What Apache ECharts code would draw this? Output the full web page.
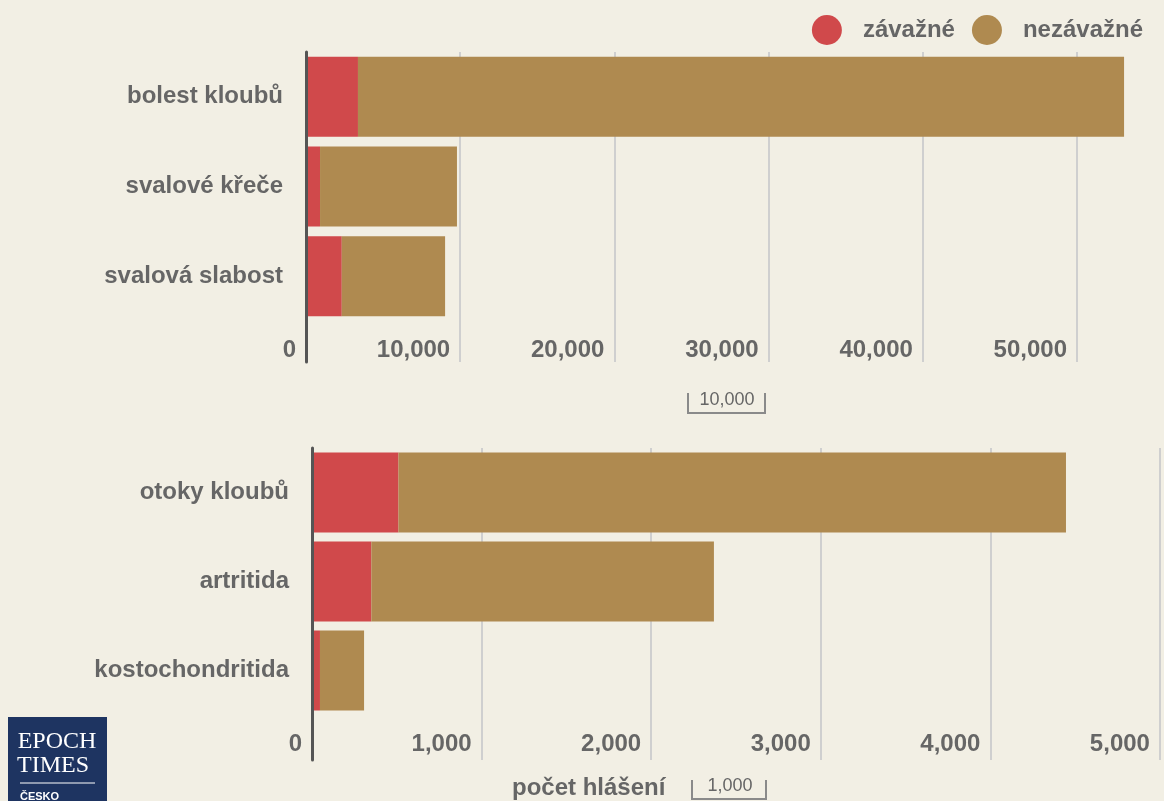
<!DOCTYPE html>
<html>
<head>
<meta charset="utf-8">
<title>hlášení</title>
<script src="https://cdn.jsdelivr.net/npm/echarts@6/dist/echarts.min.js"></script>
<style>
  html, body { margin: 0; padding: 0; background: #f2efe4; }
  #chart { width: 1164px; height: 801px; }
</style>
</head>
<body>
<div id="chart"></div>
<script>
  // horni graf
  const topCategories = ['bolest kloubů', 'svalové křeče', 'svalová slabost']
  const topSerious = [3370, 910, 2320]
  const topNonSerious = [49680, 8880, 6700]
  const topMax = 55640
  const topInterval = 10000

  // dolni graf
  const bottomCategories = ['otoky kloubů', 'artritida', 'kostochondritida']
  const bottomSerious = [510, 350, 47]
  const bottomNonSerious = [3936, 2020, 260]
  const bottomMax = 5024
  const bottomInterval = 1000

  const seriesNames = ['závažné', 'nezávažné']
  const scaleLabels = ['10,000', '1,000']
  const axisTitle = 'počet hlášení'

  const RED = '#d0494b'
  const BROWN = '#af8a50'
  const TEXT = '#666666'
  const FONT = '"Liberation Sans", Arial, sans-serif'

  const chart = echarts.init(document.getElementById('chart'))

  function tickFormatter(interval) {
    return function (v) {
      return v % interval === 0 ? v.toLocaleString('en-US') : ''
    }
  }

  // osa s popisky (grid s pruhy)
  function mainX(gridIndex, max, interval) {
    return {
      type: 'value', gridIndex: gridIndex, min: 0, max: max, interval: interval,
      axisLine: { show: false }, axisTick: { show: false },
      splitLine: { show: true, showMaxLine: false, lineStyle: { color: '#cfcfcf', width: 2 } },
      axisLabel: {
        show: true, showMaxLabel: false, align: 'right', margin: 17,
        padding: [0, 10, 0, 0],
        color: TEXT, fontSize: 24, fontWeight: 'bold', fontFamily: FONT,
        formatter: tickFormatter(interval)
      }
    }
  }
  // prodlouzeni mrizky pod pruhy
  function extX(gridIndex, max, interval) {
    return {
      type: 'value', gridIndex: gridIndex, min: 0, max: max, interval: interval,
      axisLine: { show: false }, axisTick: { show: false }, axisLabel: { show: false },
      splitLine: { show: true, showMaxLine: false, lineStyle: { color: '#cfcfcf', width: 2 } }
    }
  }
  function mainY(gridIndex, cats) {
    return {
      type: 'category', gridIndex: gridIndex, data: cats, inverse: true, z: 5,
      axisLine: { show: true, lineStyle: { color: '#555555', width: 3 } },
      axisTick: { show: false },
      axisLabel: { margin: 23, color: TEXT, fontSize: 24, fontWeight: 'bold', fontFamily: FONT }
    }
  }
  function extY(gridIndex) {
    return {
      type: 'category', gridIndex: gridIndex, data: [''], z: 5,
      axisLine: { show: true, lineStyle: { color: '#555555', width: 3 } },
      axisTick: { show: false }, axisLabel: { show: false }
    }
  }
  function bar(name, data, axisIndex, stack, color) {
    return {
      name: name, type: 'bar', stack: stack, data: data,
      xAxisIndex: axisIndex, yAxisIndex: axisIndex,
      barWidth: 80, itemStyle: { color: color }, silent: true
    }
  }

  const option = {
    backgroundColor: '#f2efe4',
    animation: false,
    legend: {
      data: seriesNames, top: 15, right: 21, padding: 0,
      icon: 'circle', itemWidth: 30, itemHeight: 30, itemGap: 17,
      formatter: '{a|{name}}',
      textStyle: {
        color: TEXT, fontSize: 24, fontWeight: 'bold', fontFamily: FONT,
        rich: { a: { color: TEXT, fontSize: 24, fontWeight: 'bold', fontFamily: FONT, padding: [0, 0, 0, 16] } }
      }
    },
    grid: [
      { left: 306, right: 0, top: 52, height: 269 },
      { left: 306, right: 0, top: 321, height: 41 },
      { left: 312, right: 0, top: 448, height: 267 },
      { left: 312, right: 0, top: 715, height: 45 }
    ],
    xAxis: [
      mainX(0, topMax, topInterval),
      extX(1, topMax, topInterval),
      mainX(2, bottomMax, bottomInterval),
      extX(3, bottomMax, bottomInterval)
    ],
    yAxis: [
      mainY(0, topCategories),
      extY(1),
      mainY(2, bottomCategories),
      extY(3)
    ],
    series: [
      bar(seriesNames[0], topSerious, 0, 'top', RED),
      bar(seriesNames[1], topNonSerious, 0, 'top', BROWN),
      bar(seriesNames[0], bottomSerious, 2, 'bottom', RED),
      bar(seriesNames[1], bottomNonSerious, 2, 'bottom', BROWN)
    ],
    graphic: [
      // meritko nahore
      { type: 'polyline', shape: { points: [[688, 393], [688, 413], [765, 413], [765, 393]] },
        style: { stroke: '#8a8a8a', lineWidth: 2, fill: null } },
      { type: 'text', x: 727, y: 400, style: { text: scaleLabels[0], fill: TEXT, font: '18px ' + FONT, textAlign: 'center', textVerticalAlign: 'middle' } },
      // meritko dole
      { type: 'polyline', shape: { points: [[692, 780], [692, 799], [766, 799], [766, 780]] },
        style: { stroke: '#8a8a8a', lineWidth: 2, fill: null } },
      { type: 'text', x: 730, y: 786, style: { text: scaleLabels[1], fill: TEXT, font: '18px ' + FONT, textAlign: 'center', textVerticalAlign: 'middle' } },
      { type: 'text', x: 512, y: 788, style: { text: axisTitle, fill: TEXT, font: 'bold 24px ' + FONT, textAlign: 'left', textVerticalAlign: 'middle' } },
      // logo
      { type: 'rect', shape: { x: 8, y: 717, width: 99, height: 90 }, style: { fill: '#1e3461' } },
      { type: 'text', x: 57, y: 742, style: { text: 'EPOCH', fill: '#ffffff', font: '24px "Liberation Serif", serif', textAlign: 'center', textVerticalAlign: 'middle' } },
      { type: 'text', x: 53, y: 766, style: { text: 'TIMES', fill: '#ffffff', font: '24px "Liberation Serif", serif', textAlign: 'center', textVerticalAlign: 'middle' } },
      { type: 'line', shape: { x1: 20, y1: 783, x2: 95, y2: 783 }, style: { stroke: '#ffffff', lineWidth: 1 } },
      { type: 'text', x: 20, y: 797, style: { text: 'ČESKO', fill: '#ffffff', font: 'bold 11px ' + FONT, textAlign: 'left', textVerticalAlign: 'middle' } }
    ]
  }

  chart.setOption(option)
</script>
</body>
</html>
